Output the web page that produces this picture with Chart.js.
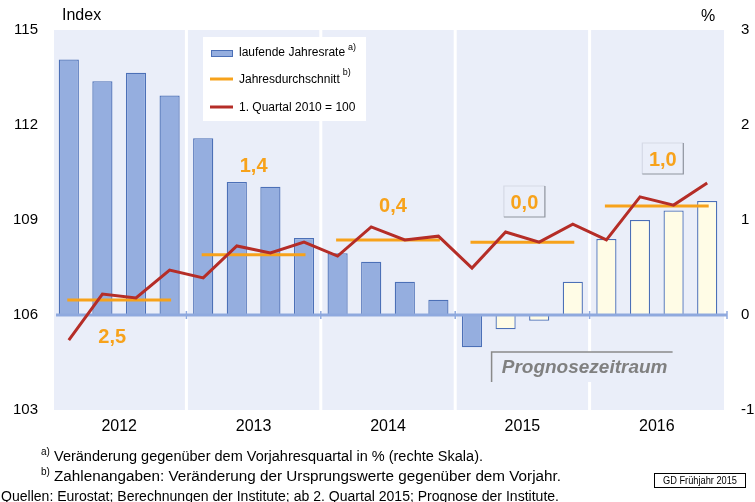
<!DOCTYPE html>
<html>
<head>
<meta charset="utf-8">
<script src="https://cdn.jsdelivr.net/npm/chart.js@4"></script>
<style>
  html, body { margin: 0; padding: 0; background: #fff; }
  canvas { display: block; }
</style>
</head>
<body>
<canvas id="chart" width="755" height="502"></canvas>
<script>
// Quartale 2012-2016
const quarters = [
  '2012 Q1', '2012 Q2', '2012 Q3', '2012 Q4',
  '2013 Q1', '2013 Q2', '2013 Q3', '2013 Q4',
  '2014 Q1', '2014 Q2', '2014 Q3', '2014 Q4',
  '2015 Q1', '2015 Q2', '2015 Q3', '2015 Q4',
  '2016 Q1', '2016 Q2', '2016 Q3', '2016 Q4'
];
const years = ['2012', '2013', '2014', '2015', '2016'];

// laufende Jahresrate in % (rechte Skala)
const jahresrate = [2.69, 2.46, 2.55, 2.31, 1.86, 1.40, 1.35, 0.81, 0.65, 0.56,
                    0.35, 0.16, -0.34, -0.15, -0.06, 0.35, 0.80, 1.00, 1.10, 1.20];
// 1. Quartal 2010 = 100 (linke Skala)
const indexWerte = [105.21, 106.66, 106.54, 107.42, 107.17, 108.18, 107.96, 108.30, 107.86, 108.78,
                    108.37, 108.49, 107.48, 108.62, 108.30, 108.87, 108.37, 109.73, 109.47, 110.17];
// Jahresdurchschnitt (Index)
const jahresdurchschnitt = [106.47, 107.90, 108.37, 108.30, 109.44];
// Veränderung gegenüber Vorjahr
const vorjahrLabels = ['2,5', '1,4', '0,4', '0,0', '1,0'];
// ab 2. Quartal 2015 Prognose
const ersterPrognoseIndex = 13;

const leftTicks = [103, 106, 109, 112, 115];
const rightTicks = [-1, 0, 1, 2, 3];

const BG = '#EAEEF9';
const BAR_BLUE = '#95AEDF';
const BAR_CREAM = '#FFFCE6';
const BAR_BORDER = '#4C70B7';
const RED = '#B52D27';
const ORANGE = '#F7A21B';
const ZERO = '#8FA9DE';
const FONT = '"Liberation Sans", Arial, sans-serif';

// Position der Zahlenangaben (Versatz zur Jahresmitte, y in px), Kasten ja/nein
const labelLayout = [
  { dx: -7, y: 337, box: false },
  { dx: 0, y: 166, box: false },
  { dx: 5, y: 206, box: false },
  { dx: 2, y: 203, box: true },
  { dx: 6, y: 160, box: true }
];

// Durchschnittslinien je Jahr
const avgDatasets = jahresdurchschnitt.map((v, i) => ({
  type: 'line',
  data: quarters.map((q, k) => Math.floor(k / 4) === i ? v : null),
  borderColor: ORANGE,
  borderWidth: 3,
  borderCapStyle: 'square',
  pointRadius: 0,
  spanGaps: false,
  yAxisID: 'y',
  xAxisID: 'x',
  order: 1
}));

function fitText(ctx, text, x, y, width) {
  const w = ctx.measureText(text).width;
  ctx.save();
  ctx.translate(x, y);
  ctx.scale(width / w, 1);
  ctx.fillText(text, 0, 0);
  ctx.restore();
}

const decorPlugin = {
  id: 'decor',
  beforeDatasetsDraw(chart) {
    const { ctx, chartArea: a, scales } = chart;
    const x = scales.x;
    ctx.save();
    ctx.fillStyle = BG;
    ctx.fillRect(a.left + 2, a.top, a.right - a.left - 2, a.bottom - a.top);
    // weiße Trennlinien zwischen den Jahren
    ctx.strokeStyle = '#fff';
    ctx.lineWidth = 3;
    for (let i = 1; i < years.length; i++) {
      const px = (x.getPixelForValue(4 * i - 1) + x.getPixelForValue(4 * i)) / 2;
      ctx.beginPath();
      ctx.moveTo(px, a.top);
      ctx.lineTo(px, a.bottom);
      ctx.stroke();
    }
    ctx.restore();
  },
  afterDatasetDraw(chart, args) {
    if (args.index !== 0) return;
    const { ctx, chartArea: a, scales } = chart;
    const y0 = scales.y1.getPixelForValue(0);
    const x = scales.x;
    ctx.save();
    ctx.strokeStyle = ZERO;
    ctx.lineWidth = 3;
    ctx.beginPath();
    ctx.moveTo(a.left + 4, y0);
    ctx.lineTo(a.right + 3, y0);
    ctx.stroke();
    ctx.lineWidth = 1.5;
    for (let i = 1; i <= years.length; i++) {
      const px = i < years.length
        ? (x.getPixelForValue(4 * i - 1) + x.getPixelForValue(4 * i)) / 2
        : a.right + 3;
      ctx.beginPath();
      ctx.moveTo(px, y0 - 4);
      ctx.lineTo(px, y0 + 4);
      ctx.stroke();
    }
    ctx.restore();
  },
  afterDraw(chart) {
    const { ctx, chartArea: a, scales } = chart;
    const x = scales.x;
    ctx.save();

    // Achsentitel
    ctx.fillStyle = '#000';
    ctx.textBaseline = 'middle';
    ctx.textAlign = 'left';
    ctx.font = '16px ' + FONT;
    ctx.fillText('Index', 62, 16);
    ctx.fillText('%', 701, 17);

    // Legende
    ctx.fillStyle = '#fff';
    ctx.fillRect(203, 37, 163, 84);
    ctx.fillStyle = BAR_BLUE;
    ctx.fillRect(211, 50, 22, 7);
    ctx.strokeStyle = BAR_BORDER;
    ctx.lineWidth = 1;
    ctx.strokeRect(211.5, 50.5, 21, 6);
    ctx.lineWidth = 3;
    ctx.strokeStyle = ORANGE;
    ctx.beginPath(); ctx.moveTo(210, 79); ctx.lineTo(233, 79); ctx.stroke();
    ctx.strokeStyle = RED;
    ctx.beginPath(); ctx.moveTo(210, 107); ctx.lineTo(233, 107); ctx.stroke();
    ctx.fillStyle = '#000';
    const legend = [['laufende Jahresrate', 'a)', 53, 48], ['Jahresdurchschnitt', 'b)', 80, 73], ['1. Quartal 2010 = 100', '', 108, 0]];
    legend.forEach(([t, sup, ty, sy]) => {
      ctx.font = '12px ' + FONT;
      ctx.fillText(t, 239, ty);
      const w = ctx.measureText(t).width;
      if (sup) {
        ctx.font = '9px ' + FONT;
        ctx.fillText(sup, 239 + w + 3, sy);
      }
    });

    // Zahlenangaben
    ctx.textAlign = 'center';
    ctx.font = 'bold 20px ' + FONT;
    vorjahrLabels.forEach((t, i) => {
      const cx = (x.getPixelForValue(4 * i) + x.getPixelForValue(4 * i + 3)) / 2 + labelLayout[i].dx;
      const cy = labelLayout[i].y;
      if (labelLayout[i].box) {
        const l = cx - 20.5, r = cx + 20.5, t0 = cy - 17, b = cy + 14;
        ctx.lineWidth = 1.2;
        ctx.strokeStyle = '#D5D9E6';
        ctx.beginPath(); ctx.moveTo(l, b); ctx.lineTo(l, t0); ctx.lineTo(r, t0); ctx.stroke();
        ctx.strokeStyle = '#8E939E';
        ctx.beginPath(); ctx.moveTo(r, t0); ctx.lineTo(r, b); ctx.lineTo(l, b); ctx.stroke();
      }
      ctx.fillStyle = ORANGE;
      ctx.fillText(t, cx, cy);
    });

    // Prognosezeitraum
    const px0 = x.getPixelForValue(ersterPrognoseIndex) - 14;
    ctx.fillStyle = BG;
    ctx.fillRect(px0, 352, 181, 30);
    ctx.strokeStyle = '#8A8A8A';
    ctx.lineWidth = 1.5;
    ctx.beginPath(); ctx.moveTo(px0, 382); ctx.lineTo(px0, 352); ctx.lineTo(px0 + 181, 352); ctx.stroke();
    ctx.fillStyle = '#808080';
    ctx.font = 'italic bold 19px ' + FONT;
    ctx.fillText('Prognosezeitraum', px0 + 93, 368);

    // Fußnoten
    ctx.textAlign = 'left';
    ctx.textBaseline = 'alphabetic';
    ctx.fillStyle = '#000';
    ctx.font = '10px ' + FONT;
    ctx.fillText('a)', 41, 455);
    ctx.fillText('b)', 41, 475);
    ctx.font = '14px ' + FONT;
    fitText(ctx, 'Veränderung gegenüber dem Vorjahresquartal in % (rechte Skala).', 54, 461, 429);
    fitText(ctx, 'Zahlenangaben: Veränderung der Ursprungswerte gegenüber dem Vorjahr.', 54, 481, 507);
    fitText(ctx, 'Quellen: Eurostat; Berechnungen der Institute; ab 2. Quartal 2015; Prognose der Institute.', 1, 501, 558);

    // Kennung
    ctx.strokeStyle = '#000';
    ctx.lineWidth = 1;
    ctx.strokeRect(654.5, 473.5, 91, 14);
    ctx.font = '10px ' + FONT;
    ctx.textBaseline = 'middle';
    fitText(ctx, 'GD Frühjahr 2015', 663, 481, 74);

    ctx.restore();
  }
};

const chart = new Chart(document.getElementById('chart'), {
  type: 'bar',
  data: {
    labels: quarters,
    datasets: [
      {
        type: 'bar',
        data: jahresrate,
        backgroundColor: jahresrate.map((v, i) => i < ersterPrognoseIndex ? BAR_BLUE : BAR_CREAM),
        borderColor: BAR_BORDER,
        borderWidth: 1.3,
        barPercentage: 0.6,
        categoryPercentage: 1,
        yAxisID: 'y1',
        xAxisID: 'x',
        order: 2
      },
      ...avgDatasets,
      {
        type: 'line',
        data: indexWerte,
        borderColor: RED,
        borderWidth: 3,
        pointRadius: 0,
        tension: 0,
        yAxisID: 'y',
        xAxisID: 'x',
        order: 0
      }
    ]
  },
  options: {
    responsive: false,
    animation: false,
    devicePixelRatio: 1,
    layout: { padding: { top: 30, left: 0, right: 0, bottom: 0 } },
    plugins: { legend: { display: false }, tooltip: { enabled: false } },
    scales: {
      x: { display: false, offset: true },
      x2: {
        type: 'category',
        labels: years,
        position: 'bottom',
        offset: true,
        grid: { display: false, drawTicks: false },
        border: { display: false },
        ticks: { color: '#000', font: { family: FONT, size: 16 }, padding: 7 },
        afterFit(s) { s.height = 92; }
      },
      y: {
        position: 'left',
        min: 103, max: 115,
        afterBuildTicks(s) { s.ticks = leftTicks.map(v => ({ value: v })); },
        grid: { display: false, drawTicks: false },
        border: { display: false },
        ticks: { color: '#000', font: { family: FONT, size: 15 }, padding: 14 },
        afterFit(s) { s.width = 52; }
      },
      y1: {
        position: 'right',
        min: -1, max: 3,
        afterBuildTicks(s) { s.ticks = rightTicks.map(v => ({ value: v })); },
        grid: { display: false, drawTicks: false },
        border: { display: false },
        ticks: { color: '#000', font: { family: FONT, size: 15 }, padding: 17 },
        afterFit(s) { s.width = 31; }
      }
    }
  },
  plugins: [decorPlugin]
});
</script>
</body>
</html>
